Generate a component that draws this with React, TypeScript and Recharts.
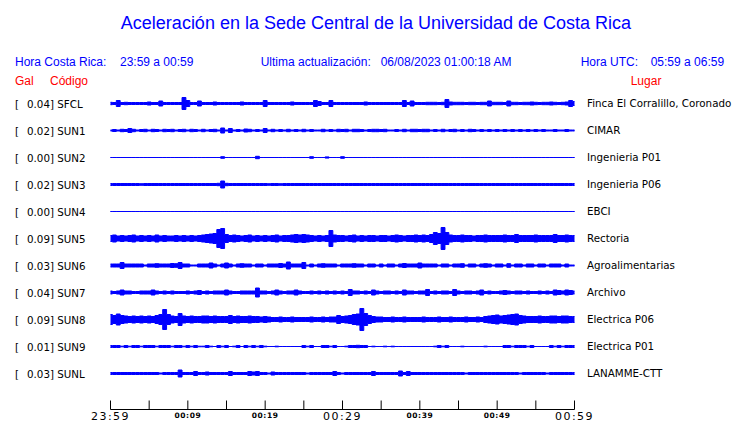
import { ComposedChart, Area, XAxis, YAxis } from 'recharts'

// station codes, peak values (Gal) and place names, top to bottom
const CODES = ['SFCL', 'SUN1', 'SUN2', 'SUN3', 'SUN4', 'SUN5', 'SUN6', 'SUN7', 'SUN8', 'SUN9', 'SUNL']
const GALS = ['0.04', '0.02', '0.00', '0.02', '0.00', '0.09', '0.03', '0.04', '0.09', '0.01', '0.03']
const PLACES = [
  'Finca El Corralillo, Coronado',
  'CIMAR',
  'Ingenieria P01',
  'Ingenieria P06',
  'EBCI',
  'Rectoria',
  'Agroalimentarias',
  'Archivo',
  'Electrica P06',
  'Electrica P01',
  'LANAMME-CTT',
]

// half-amplitude of each trace, one sample every 30 s (121 samples = 60 min)
const SFCL = [
  1.2, 1, 3, 1, 1.2, 1, 1, 1, 1, 1,
  1.5, 1, 1, 2.5, 1, 1, 1, 1, 1, 6,
  3, 1, 1, 2.5, 1, 1, 1, 1.5, 1, 1,
  1, 1, 1, 1, 1.5, 1, 1, 1, 1, 1,
  3, 1, 1, 1, 1, 1, 1, 1.5, 1, 1,
  1, 1, 1, 3, 2, 1, 1, 3, 1, 1,
  1, 1, 1, 1, 1, 1, 1.5, 1, 1, 1,
  1, 1, 1, 1, 1, 1, 3, 1, 2.5, 1,
  1, 1, 1.2, 1.2, 1.2, 1, 1.2, 4, 1.5, 1.2,
  1.2, 1.2, 1, 1.2, 1.2, 1, 1.2, 1.2, 2.5, 1.2,
  1.2, 1.2, 1, 2.5, 1.2, 1.2, 1, 1.2, 1.2, 1.5,
  1.2, 1, 1.2, 1.2, 1.5, 1.2, 1, 1.2, 1.5, 3,
  2,
]
const SUN1 = [
  0.5, 1, 0.5, 1.2, 1, 2, 1.2, 0.5, 1, 1.2,
  0.5, 1.2, 1, 0.5, 1.2, 1, 1.2, 0.5, 1, 1.2,
  0.5, 1.2, 1, 0.5, 1.2, 0.5, 1, 1.2, 0.5, 2.5,
  0.5, 2, 0.5, 1, 0.5, 1.5, 1.2, 0.5, 1, 0.5,
  2, 0.5, 1.2, 0.5, 1, 0.5, 1.2, 0.5, 1, 0.5,
  1.2, 0.5, 1, 0.5, 0.5, 1.2, 0.5, 1, 0.5, 1.2,
  1, 1.2, 0.5, 1.2, 1.2, 1, 0.5, 1, 1.2, 1.2,
  1, 1.2, 0.5, 0.5, 1, 0.5, 1.2, 0.5, 1.2, 1.2,
  1, 1.2, 1.2, 0.5, 1, 0.5, 1.2, 0.5, 1, 1.2,
  0.5, 1, 0.5, 1.2, 1, 0.5, 1, 0.5, 1, 0.5,
  1, 0.5, 1, 0.5, 1, 0.5, 1, 0.5, 1, 0.5,
  1, 0.5, 1, 0.5, 0.5, 1, 0.5, 0.5, 1, 0.5,
  0.5,
]
const SUN2 = [
  0, 0, 0, 0, 0, 0, 0, 0, 0, 0,
  0, 0, 0, 0, 0, 0, 0, 0, 0, 0,
  0, 0, 0, 0, 0, 0, 0, 0, 0, 0.8,
  0, 0, 0, 0, 0, 0, 0, 0, 1.2, 0,
  0, 0, 0, 0, 0, 0, 0, 0, 0, 0,
  0, 0, 0.8, 0, 0, 0, 0.6, 0, 0, 0,
  0.8, 0, 0, 0, 0, 0, 0, 0, 0, 0,
  0, 0, 0, 0, 0, 0, 0, 0, 0, 0,
  0, 0, 0, 0, 0, 0, 0, 0, 0, 0,
  0, 0, 0, 0, 0, 0, 0, 0, 0, 0,
  0, 0, 0, 0, 0, 0, 0, 0, 0, 0,
  0, 0, 0, 0, 0, 0, 0, 0, 0, 0,
  0,
]
const SUN3 = [
  1, 1, 1, 1, 1, 1, 1, 1, 0.8, 1,
  1, 1, 1, 1, 1, 1, 1, 1, 1, 1,
  1, 1, 1, 1, 1, 1, 1, 1, 1.2, 3.5,
  1.2, 1, 1, 1, 1, 1, 1, 1, 1, 1,
  1, 0.8, 1, 1, 0.8, 1, 1, 1, 1, 1,
  1, 1, 1, 1, 1, 1, 1, 1, 1, 1,
  1, 1, 1, 1, 1, 1, 1, 1, 1, 1,
  1, 1, 1, 1, 1, 1, 1, 1, 1, 1,
  1, 1, 1, 1, 1, 1, 1, 1, 1, 1,
  1, 1, 1, 1, 1, 1, 1, 1, 1, 1,
  1, 1, 1, 1, 1, 1, 1, 1, 1, 1,
  1, 1, 1, 1, 1, 1, 1, 1, 1, 1,
  1,
]
const SUN4 = [
  0, 0, 0, 0, 0, 0, 0, 0, 0, 0,
  0, 0, 0, 0, 0, 0, 0, 0, 0, 0,
  0, 0, 0, 0, 0, 0, 0, 0, 0, 0,
  0, 0, 0, 0, 0, 0, 0, 0, 0, 0,
  0, 0, 0, 0, 0, 0, 0, 0, 0, 0,
  0, 0, 0, 0, 0, 0, 0, 0, 0, 0,
  0, 0, 0, 0, 0, 0, 0, 0, 0, 0,
  0, 0, 0, 0, 0, 0, 0, 0, 0, 0,
  0, 0, 0, 0, 0, 0, 0, 0, 0, 0,
  0, 0, 0, 0, 0, 0, 0, 0, 0, 0,
  0, 0, 0, 0, 0, 0, 0, 0, 0, 0,
  0, 0, 0, 0, 0, 0, 0, 0, 0, 0,
  0,
]
const SUN5 = [
  3, 3.5, 2.5, 3, 2.5, 3, 3.5, 2.5, 3, 2.5,
  3, 2.5, 3.5, 2.5, 3, 2.5, 2.5, 3, 2.5, 3,
  2.5, 3, 2.5, 3, 3.5, 4, 4.5, 5, 9, 10,
  4, 3, 3.5, 3, 2.5, 3, 3.5, 2.5, 3, 2.5,
  3, 2.5, 3, 3.5, 2.5, 3, 3, 3.5, 4, 3.5,
  4, 3.5, 3, 2.5, 3, 2.5, 3, 8, 3.5, 3,
  3, 2.5, 3, 3.5, 2.5, 3, 2.5, 3, 3, 2.5,
  3, 3, 2.5, 3, 3.5, 3, 2.5, 3, 3, 3.5,
  3, 3.5, 3, 4, 6, 5, 11, 6, 3.5, 3,
  3, 3.5, 3, 3, 2.5, 3, 3, 3.5, 3, 3,
  3, 3, 3.5, 3, 3, 4, 3, 3, 3, 3,
  3.5, 3, 3, 3, 3, 4, 3, 3, 3.5, 3,
  3,
]
const SUN6 = [
  1.5, 1.5, 1.5, 3, 1.5, 1.5, 1.5, 1.5, 1.5, 0.5,
  1.5, 1.5, 1.8, 1.5, 1.5, 1.5, 2, 1.8, 3, 1.5,
  1.5, 0.5, 0.5, 1.5, 1.5, 1.5, 2.5, 1.5, 0.5, 1.5,
  2.5, 1.5, 0.5, 1.5, 1.8, 1.5, 1.5, 0.5, 1.5, 1.5,
  0.5, 1.5, 1.5, 1.5, 2, 1.5, 3.5, 1.5, 1.5, 1.5,
  3, 0.5, 1.5, 0.5, 1.5, 1.8, 1.5, 1.5, 1.5, 0.5,
  1.5, 1.5, 1.5, 1.8, 1.5, 1.5, 0.5, 1.5, 1.5, 0.5,
  1.5, 0.5, 1.5, 1.5, 0.5, 1.5, 2, 1.5, 1.5, 1.5,
  2.5, 1.5, 1.5, 1.5, 1.5, 0.5, 1.5, 1.5, 0.5, 1.5,
  1.5, 1.8, 0.5, 1.5, 1.5, 0.5, 1.5, 1.8, 1.5, 0.5,
  1.5, 1.5, 0.5, 1.8, 0.5, 1.5, 1.5, 0.5, 1.5, 1.5,
  0.5, 1.5, 1.5, 0.5, 1.5, 1.5, 1.5, 0.5, 1.5, 0.5,
  0.5,
]
const SUN7 = [
  1.5, 1, 1.5, 2.5, 1.5, 1.5, 1, 1, 1.5, 1.5,
  1.5, 2.5, 1.5, 1, 1.5, 1, 1.5, 1, 1, 1,
  1.5, 1, 1.5, 2, 1, 1.5, 1, 1.5, 1.5, 1.5,
  2.5, 1.5, 1, 1, 1.5, 1.5, 1.5, 1.5, 4.5, 1.5,
  1.5, 1, 1.5, 2.5, 1.5, 1, 1.5, 1.5, 2.5, 1.5,
  1, 1, 1.5, 1, 1.5, 1, 1.5, 1, 1.5, 1,
  1.5, 1, 3, 1.5, 1.5, 1, 1.5, 1, 2.5, 1.5,
  1, 1.5, 1.5, 1, 1.5, 1, 2.5, 1.5, 1.5, 1,
  1.5, 1.5, 3, 1, 1.5, 1, 1.5, 1.5, 1, 3,
  1.5, 1, 1.5, 1.5, 1, 1.5, 2.5, 1, 1.5, 1,
  1, 1.5, 2, 1.5, 1, 1.5, 1.5, 1, 1.5, 1,
  1, 1.5, 1, 1.5, 1, 2.5, 2, 1.5, 2.5, 2,
  1.5,
]
const SUN8 = [
  5, 4, 5.5, 4, 3.5, 3, 3.5, 3, 3.5, 3,
  3.5, 3, 4, 5, 10, 5, 3.5, 3, 6, 3.5,
  3, 3.5, 3, 3, 3.5, 3.5, 3, 3.5, 3, 3,
  3, 4, 3, 3.5, 3, 3, 3.5, 3, 3, 2.5,
  3, 2.5, 2, 2, 2.5, 2, 2, 2.5, 2, 2,
  2, 2, 2.5, 2, 2, 2.5, 2, 2.5, 2.5, 4,
  3, 3.5, 4, 5, 5.5, 11, 6, 4, 3, 2.5,
  2.5, 2, 2, 2.5, 2, 2, 2.5, 2, 2, 2,
  2, 2.5, 2, 2, 2, 2.5, 2, 2, 2.5, 2,
  2, 2, 2.5, 2, 2, 2.5, 2, 3, 3.5, 4,
  4.5, 3.5, 4, 4.5, 5, 5.5, 4, 3.5, 3, 3,
  3, 3.5, 3, 3, 3.5, 3.5, 3, 3.5, 3.5, 3,
  3,
]
const SUN9 = [
  1, 1, 1, 0.3, 1, 0.3, 1, 1, 0.3, 1,
  1, 1, 0.3, 1, 1, 1, 0.3, 1, 1, 0.3,
  1, 0.3, 1, 0.3, 0.3, 1, 0.3, 0, 1, 0.3,
  1, 0, 0.3, 1, 0, 1, 0.3, 1, 0.3, 1,
  0.3, 0, 0, 0.3, 0, 0, 0, 0, 0, 0,
  1, 0.3, 1, 0, 0, 1, 1, 0.3, 1, 0,
  0, 0.3, 1, 1, 1.2, 1, 1, 0, 0.3, 0,
  0, 0.3, 0, 0.3, 0, 0, 0, 0, 0, 0,
  0, 0, 0, 0, 0.3, 1, 0.3, 1, 0, 0,
  0, 0.3, 0, 0, 0, 0, 0, 0.3, 0, 0,
  0, 0, 1, 1, 0.3, 1, 1, 1, 0.3, 1,
  0, 0, 0, 0, 1, 0.3, 1, 0.3, 1, 1,
  1,
]
const SUNL = [
  1, 1, 1, 1, 1, 1, 1, 1, 1, 1,
  1, 1, 1, 0.5, 1, 1, 1, 1, 3.5, 1,
  1, 1, 2, 1, 1, 1.5, 1, 1, 1, 1,
  1, 2, 1, 1, 1, 1, 2, 1.5, 2, 1,
  1, 0.5, 1.5, 1, 1, 1, 1, 1, 1, 1,
  1, 0.5, 1, 1, 1, 1, 1, 1, 2, 1,
  0.5, 1, 1, 1, 1, 1, 1, 1, 2, 1,
  1, 1, 1, 1, 1, 2.5, 1, 2, 1, 1,
  1, 1, 1, 1, 1, 1, 1, 1, 1, 1,
  1, 1, 0.5, 1, 1, 1, 1, 1, 1, 1,
  1, 1, 1, 1, 1, 1, 0.5, 1, 1, 1,
  1, 1, 1, 0.5, 1, 1, 1, 1, 1, 1,
  1,
]

const TRACES = [SFCL, SUN1, SUN2, SUN3, SUN4, SUN5, SUN6, SUN7, SUN8, SUN9, SUNL]

// x ticks every 5 minutes (10 samples), labels every 10 minutes
const TICK_SAMPLES = [0, 10, 20, 30, 40, 50, 60, 70, 80, 90, 100, 110, 120]
const TICK_LABELS = ['23:59', '', '00:09', '', '00:19', '', '00:29', '', '00:39', '', '00:49', '', '00:59']
const BIG_LABELS = ['23:59', '00:29', '00:59']

const GAP = 27
const BLUE = '#0000ff'
const RED = '#ff0000'
const SANS = '"Liberation Sans", Arial, sans-serif'
const DEJAVU = '"DejaVu Sans", sans-serif'

const rows = SFCL.map((_, i) => {
  const row: Record<string, number | number[]> = { s: i }
  TRACES.forEach((tr, k) => {
    const c = k * GAP
    row[CODES[k]] = [c - tr[i], c + tr[i]]
  })
  return row
})

const StationTick = (props: any) => {
  const { y, payload } = props
  const k = Math.round(payload.value / GAP)
  return (
    <g fontFamily={DEJAVU} fontSize={10.3} fill="#000">
      <text x={15} y={y + 4}>[</text>
      <text x={27} y={y + 4}>{GALS[k]}] {CODES[k]}</text>
      <text x={587} y={y + 3.5}>{PLACES[k]}</text>
    </g>
  )
}

const TimeTick = (props: any) => {
  const { x, y, payload } = props
  const label = TICK_LABELS[TICK_SAMPLES.indexOf(payload.value)]
  const big = BIG_LABELS.includes(label)
  return (
    <g>
      <line x1={x} x2={x} y1={y - 9} y2={y} stroke="#000" strokeWidth={1} />
      {label && (
        <text
          x={x}
          y={big ? y + 10 : y + 8}
          textAnchor="middle"
          fontFamily={DEJAVU}
          fontSize={big ? 11 : 7.5}
          fontWeight={big ? 'normal' : 'bold'}
          letterSpacing={big ? 1.5 : 0.6}
          fill="#000"
        >
          {label}
        </text>
      )}
    </g>
  )
}

export default function App() {
  return (
    <div style={{ position: 'absolute', left: 0, top: 0, width: 740, height: 423, background: '#fff' }}>
      <ComposedChart
        width={740}
        height={423}
        data={rows}
        margin={{ top: 76.5, right: 165.5, bottom: 3.5, left: 0 }}
      >
        <XAxis
          dataKey="s"
          type="number"
          domain={[0, 120]}
          ticks={TICK_SAMPLES}
          interval={0}
          height={10}
          tickSize={0}
          tickMargin={0}
          tickLine={false}
          axisLine={{ stroke: '#000' }}
          tick={<TimeTick />}
        />
        <YAxis
          type="number"
          reversed
          width={110.5}
          domain={[-27, 306]}
          allowDataOverflow
          ticks={CODES.map((_, k) => k * GAP)}
          interval={0}
          axisLine={false}
          tickLine={false}
          tick={<StationTick />}
        />
        {CODES.map((code) => (
          <Area
            key={code}
            dataKey={code}
            type="step"
            stroke={BLUE}
            strokeWidth={1}
            fill={BLUE}
            fillOpacity={1}
            dot={false}
            activeDot={false}
            isAnimationActive={false}
          />
        ))}
      </ComposedChart>
      <svg width={740} height={423} style={{ position: 'absolute', left: 0, top: 0, pointerEvents: 'none' }}>
        <g fontFamily={SANS}>
          <text x={376} y={29} textAnchor="middle" fontSize={18} fill={BLUE}>
            Aceleración en la Sede Central de la Universidad de Costa Rica
          </text>
          <g fontSize={12} fill={BLUE}>
            <text x={15} y={66}>Hora Costa Rica:</text>
            <text x={120} y={66}>23:59 a 00:59</text>
            <text x={260.7} y={66}>Ultima actualización:</text>
            <text x={380.7} y={66}>06/08/2023 01:00:18 AM</text>
            <text x={580.7} y={66}>Hora UTC:</text>
            <text x={650.7} y={66}>05:59 a 06:59</text>
          </g>
          <g fontSize={12} fill={RED}>
            <text x={15} y={85}>Gal</text>
            <text x={50} y={85}>Código</text>
            <text x={630.7} y={85}>Lugar</text>
          </g>
        </g>
      </svg>
    </div>
  )
}
